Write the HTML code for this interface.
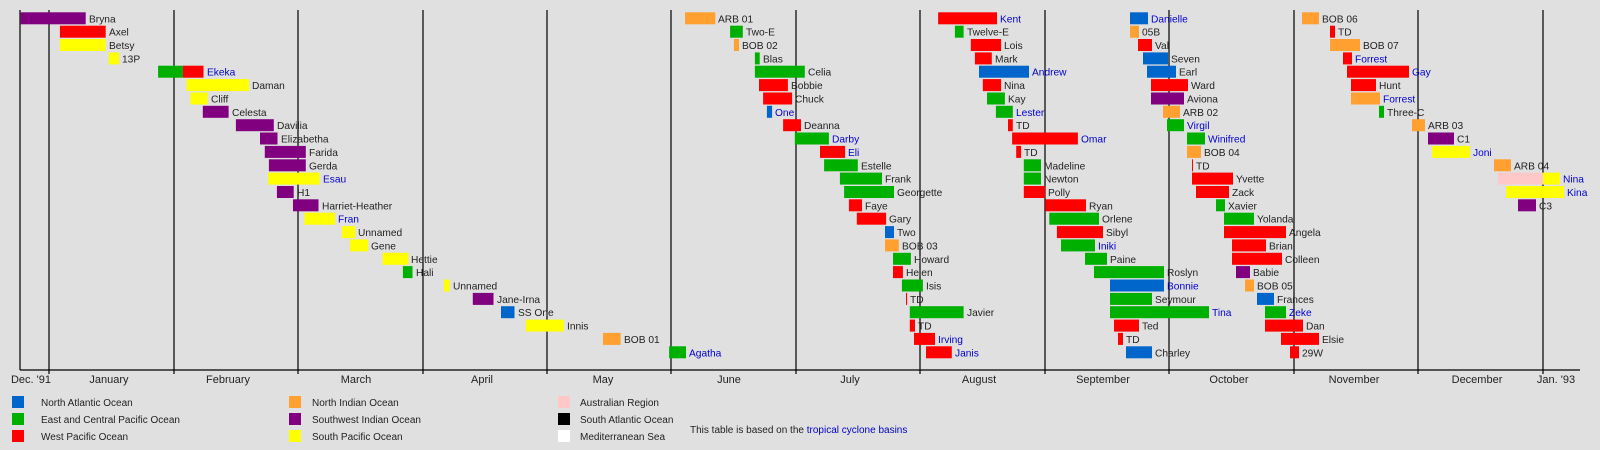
<!DOCTYPE html>
<html><head><meta charset="utf-8"><style>
body{margin:0;background:#e0e0e0}
svg{display:block}
text{font-family:"Liberation Sans",sans-serif;font-size:10.2px;fill:#222}
.m text{font-size:11px}
.b{fill:#0000cc}
.P{fill:#800080}.R{fill:#ff0000}.Y{fill:#ffff00}.G{fill:#00b000}.B{fill:#0066cc}.O{fill:#ffa030}.K{fill:#ffc8c8}
text.l{font-size:10px}
</style></head><body>
<svg width="1600" height="450" xmlns="http://www.w3.org/2000/svg">
<rect width="1600" height="450" fill="#e0e0e0"/>
<g stroke="#000" stroke-width="1.2">
<line x1="20" y1="10" x2="20" y2="370"/>
<line x1="20" y1="370" x2="1580" y2="370"/>
<line x1="49" y1="10" x2="49" y2="374"/>
<line x1="174" y1="10" x2="174" y2="374"/>
<line x1="298" y1="10" x2="298" y2="374"/>
<line x1="423" y1="10" x2="423" y2="374"/>
<line x1="547" y1="10" x2="547" y2="374"/>
<line x1="671" y1="10" x2="671" y2="374"/>
<line x1="796" y1="10" x2="796" y2="374"/>
<line x1="920" y1="10" x2="920" y2="374"/>
<line x1="1045" y1="10" x2="1045" y2="374"/>
<line x1="1169" y1="10" x2="1169" y2="374"/>
<line x1="1294" y1="10" x2="1294" y2="374"/>
<line x1="1418" y1="10" x2="1418" y2="374"/>
<line x1="1543" y1="10" x2="1543" y2="374"/>
</g>
<g class="m" text-anchor="middle">
<text x="31" y="383">Dec. '91</text><text x="109" y="383">January</text><text x="228" y="383">February</text><text x="356" y="383">March</text><text x="482" y="383">April</text><text x="603" y="383">May</text><text x="729" y="383">June</text><text x="850" y="383">July</text><text x="979" y="383">August</text><text x="1103" y="383">September</text><text x="1229" y="383">October</text><text x="1354" y="383">November</text><text x="1477" y="383">December</text><text x="1556" y="383">Jan. '93</text>
</g>
<rect class="P" x="20.7" y="12.3" width="65" height="12"/><text x="89" y="22.3">Bryna</text>
<rect class="R" x="59.9" y="25.7" width="45.8" height="12"/><text x="109" y="35.7">Axel</text>
<rect class="Y" x="59.9" y="39" width="45.8" height="12"/><text x="109" y="49">Betsy</text>
<rect class="Y" x="108.8" y="52.4" width="10.3" height="12"/><text x="122" y="62.4">13P</text>
<rect class="G" x="158.1" y="65.7" width="24.8" height="12"/><rect class="R" x="182.9" y="65.7" width="20.6" height="12"/><text class="b" x="207" y="75.7">Ekeka</text>
<rect class="Y" x="186.6" y="79.1" width="62.4" height="12"/><text x="252" y="89.1">Daman</text>
<rect class="Y" x="190.4" y="92.5" width="17.2" height="12"/><text x="211" y="102.5">Cliff</text>
<rect class="P" x="202.8" y="105.8" width="25.8" height="12"/><text x="232" y="115.8">Celesta</text>
<rect class="P" x="235.9" y="119.2" width="37.9" height="12"/><text x="277" y="129.2">Davilia</text>
<rect class="P" x="260" y="132.5" width="17.5" height="12"/><text x="281" y="142.5">Elizabetha</text>
<rect class="P" x="264.8" y="145.9" width="41" height="12"/><text x="309" y="155.9">Farida</text>
<rect class="P" x="268.9" y="159.3" width="36.9" height="12"/><text x="309" y="169.3">Gerda</text>
<rect class="Y" x="268.2" y="172.6" width="51.4" height="12"/><text class="b" x="323" y="182.6">Esau</text>
<rect class="P" x="276.9" y="186" width="16.8" height="12"/><text x="297" y="196">H1</text>
<rect class="P" x="293" y="199.3" width="25.5" height="12"/><text x="322" y="209.3">Harriet-Heather</text>
<rect class="Y" x="304.4" y="212.7" width="30.7" height="12"/><text class="b" x="338" y="222.7">Fran</text>
<rect class="Y" x="341.9" y="226.1" width="13.5" height="12"/><text x="358" y="236.1">Unnamed</text>
<rect class="Y" x="349.9" y="239.4" width="18.2" height="12"/><text x="371" y="249.4">Gene</text>
<rect class="Y" x="382.6" y="252.8" width="25.8" height="12"/><text x="411" y="262.8">Hettie</text>
<rect class="G" x="402.9" y="266.1" width="9.6" height="12"/><text x="416" y="276.1">Hali</text>
<rect class="Y" x="443.9" y="279.5" width="5.8" height="12"/><text x="453" y="289.5">Unnamed</text>
<rect class="P" x="472.8" y="292.9" width="20.7" height="12"/><text x="497" y="302.9">Jane-Irna</text>
<rect class="B" x="501" y="306.2" width="13.5" height="12"/><text x="518" y="316.2">SS One</text>
<rect class="Y" x="525.8" y="319.6" width="38" height="12"/><text x="567" y="329.6">Innis</text>
<rect class="O" x="603" y="332.9" width="17.6" height="12"/><text x="624" y="342.9">BOB 01</text>
<rect class="G" x="669.1" y="346.3" width="16.9" height="12"/><text class="b" x="689" y="356.3">Agatha</text>
<rect class="O" x="685" y="12.3" width="30.3" height="12"/><text x="718" y="22.3">ARB 01</text>
<rect class="R" x="938.1" y="12.3" width="58.9" height="12"/><text class="b" x="1000" y="22.3">Kent</text>
<rect class="G" x="730.1" y="25.7" width="12.7" height="12"/><text x="746" y="35.7">Two-E</text>
<rect class="G" x="954.9" y="25.7" width="8.7" height="12"/><text x="967" y="35.7">Twelve-E</text>
<rect class="O" x="733.9" y="39" width="5.1" height="12"/><text x="742" y="49">BOB 02</text>
<rect class="R" x="970.8" y="39" width="30.3" height="12"/><text x="1004" y="49">Lois</text>
<rect class="G" x="754.9" y="52.4" width="4.8" height="12"/><text x="763" y="62.4">Blas</text>
<rect class="R" x="974.9" y="52.4" width="16.9" height="12"/><text x="995" y="62.4">Mark</text>
<rect class="G" x="754.9" y="65.7" width="49.9" height="12"/><text x="808" y="75.7">Celia</text>
<rect class="B" x="979" y="65.7" width="50" height="12"/><text class="b" x="1032" y="75.7">Andrew</text>
<rect class="R" x="759" y="79.1" width="28.9" height="12"/><text x="791" y="89.1">Bobbie</text>
<rect class="R" x="982.8" y="79.1" width="18.3" height="12"/><text x="1004" y="89.1">Nina</text>
<rect class="R" x="763.1" y="92.5" width="29" height="12"/><text x="795" y="102.5">Chuck</text>
<rect class="G" x="987" y="92.5" width="17.9" height="12"/><text x="1008" y="102.5">Kay</text>
<rect class="B" x="766.9" y="105.8" width="5.2" height="12"/><text class="b" x="775" y="115.8">One</text>
<rect class="G" x="995.9" y="105.8" width="16.9" height="12"/><text class="b" x="1016" y="115.8">Lester</text>
<rect class="R" x="783.1" y="119.2" width="17.9" height="12"/><text x="804" y="129.2">Deanna</text>
<rect class="R" x="1008" y="119.2" width="4.8" height="12"/><text x="1016" y="129.2">TD</text>
<rect class="G" x="794.8" y="132.5" width="34.1" height="12"/><text class="b" x="832" y="142.5">Darby</text>
<rect class="R" x="1012.1" y="132.5" width="65.8" height="12"/><text class="b" x="1081" y="142.5">Omar</text>
<rect class="R" x="820" y="145.9" width="25.1" height="12"/><text class="b" x="848" y="155.9">Eli</text>
<rect class="R" x="1016.2" y="145.9" width="4.9" height="12"/><text x="1024" y="155.9">TD</text>
<rect class="G" x="824.1" y="159.3" width="33.7" height="12"/><text x="861" y="169.3">Estelle</text>
<rect class="G" x="1023.8" y="159.3" width="17.2" height="12"/><text x="1044" y="169.3">Madeline</text>
<rect class="G" x="839.9" y="172.6" width="42.1" height="12"/><text x="885" y="182.6">Frank</text>
<rect class="G" x="1023.8" y="172.6" width="17.2" height="12"/><text x="1044" y="182.6">Newton</text>
<rect class="G" x="844.1" y="186" width="49.9" height="12"/><text x="897" y="196">Georgette</text>
<rect class="R" x="1023.8" y="186" width="21.4" height="12"/><text x="1048" y="196">Polly</text>
<rect class="R" x="848.9" y="199.3" width="13.1" height="12"/><text x="865" y="209.3">Faye</text>
<rect class="R" x="1045.2" y="199.3" width="40.8" height="12"/><text x="1089" y="209.3">Ryan</text>
<rect class="R" x="856.8" y="212.7" width="29.3" height="12"/><text x="889" y="222.7">Gary</text>
<rect class="G" x="1049.3" y="212.7" width="49.7" height="12"/><text x="1102" y="222.7">Orlene</text>
<rect class="B" x="885" y="226.1" width="9" height="12"/><text x="897" y="236.1">Two</text>
<rect class="R" x="1056.9" y="226.1" width="46.1" height="12"/><text x="1106" y="236.1">Sibyl</text>
<rect class="O" x="885" y="239.4" width="13.8" height="12"/><text x="902" y="249.4">BOB 03</text>
<rect class="G" x="1061" y="239.4" width="34" height="12"/><text class="b" x="1098" y="249.4">Iniki</text>
<rect class="G" x="893" y="252.8" width="17.9" height="12"/><text x="914" y="262.8">Howard</text>
<rect class="G" x="1085" y="252.8" width="22" height="12"/><text x="1110" y="262.8">Paine</text>
<rect class="R" x="893" y="266.1" width="9.9" height="12"/><text x="906" y="276.1">Helen</text>
<rect class="G" x="1094" y="266.1" width="70" height="12"/><text x="1167" y="276.1">Roslyn</text>
<rect class="G" x="901.9" y="279.5" width="21" height="12"/><text x="926" y="289.5">Isis</text>
<rect class="B" x="1110" y="279.5" width="54" height="12"/><text class="b" x="1167" y="289.5">Bonnie</text>
<rect class="R" x="906" y="292.9" width="1.1" height="12"/><text x="910" y="302.9">TD</text>
<rect class="G" x="1110" y="292.9" width="42" height="12"/><text x="1155" y="302.9">Seymour</text>
<rect class="G" x="909.8" y="306.2" width="53.8" height="12"/><text x="967" y="316.2">Javier</text>
<rect class="G" x="1110" y="306.2" width="99" height="12"/><text class="b" x="1212" y="316.2">Tina</text>
<rect class="R" x="909.8" y="319.6" width="5.2" height="12"/><text x="918" y="329.6">TD</text>
<rect class="R" x="1114" y="319.6" width="25" height="12"/><text x="1142" y="329.6">Ted</text>
<rect class="R" x="914" y="332.9" width="21" height="12"/><text class="b" x="938" y="342.9">Irving</text>
<rect class="R" x="1118" y="332.9" width="5" height="12"/><text x="1126" y="342.9">TD</text>
<rect class="R" x="926" y="346.3" width="25.8" height="12"/><text class="b" x="955" y="356.3">Janis</text>
<rect class="B" x="1126" y="346.3" width="26" height="12"/><text x="1155" y="356.3">Charley</text>
<rect class="B" x="1130" y="12.3" width="18" height="12"/><text class="b" x="1151" y="22.3">Danielle</text>
<rect class="O" x="1302" y="12.3" width="17" height="12"/><text x="1322" y="22.3">BOB 06</text>
<rect class="O" x="1130" y="25.7" width="9" height="12"/><text x="1142" y="35.7">05B</text>
<rect class="R" x="1330" y="25.7" width="5" height="12"/><text x="1338" y="35.7">TD</text>
<rect class="R" x="1138" y="39" width="14" height="12"/><text x="1155" y="49">Val</text>
<rect class="O" x="1330" y="39" width="30" height="12"/><text x="1363" y="49">BOB 07</text>
<rect class="B" x="1143" y="52.4" width="25" height="12"/><text x="1171" y="62.4">Seven</text>
<rect class="R" x="1343" y="52.4" width="9" height="12"/><text class="b" x="1355" y="62.4">Forrest</text>
<rect class="B" x="1147" y="65.7" width="29" height="12"/><text x="1179" y="75.7">Earl</text>
<rect class="R" x="1347" y="65.7" width="62" height="12"/><text class="b" x="1412" y="75.7">Gay</text>
<rect class="R" x="1151" y="79.1" width="37" height="12"/><text x="1191" y="89.1">Ward</text>
<rect class="R" x="1351" y="79.1" width="25" height="12"/><text x="1379" y="89.1">Hunt</text>
<rect class="P" x="1151" y="92.5" width="33" height="12"/><text x="1187" y="102.5">Aviona</text>
<rect class="O" x="1351" y="92.5" width="29" height="12"/><text class="b" x="1383" y="102.5">Forrest</text>
<rect class="O" x="1163" y="105.8" width="17" height="12"/><text x="1183" y="115.8">ARB 02</text>
<rect class="G" x="1379" y="105.8" width="5" height="12"/><text x="1387" y="115.8">Three-C</text>
<rect class="G" x="1167" y="119.2" width="17" height="12"/><text class="b" x="1187" y="129.2">Virgil</text>
<rect class="O" x="1412" y="119.2" width="13" height="12"/><text x="1428" y="129.2">ARB 03</text>
<rect class="G" x="1187" y="132.5" width="18" height="12"/><text class="b" x="1208" y="142.5">Winifred</text>
<rect class="P" x="1428" y="132.5" width="26" height="12"/><text x="1457" y="142.5">C1</text>
<rect class="O" x="1187" y="145.9" width="14" height="12"/><text x="1204" y="155.9">BOB 04</text>
<rect class="Y" x="1432" y="145.9" width="38" height="12"/><text class="b" x="1473" y="155.9">Joni</text>
<rect class="R" x="1192" y="159.3" width="1" height="12"/><text x="1196" y="169.3">TD</text>
<rect class="O" x="1494" y="159.3" width="17" height="12"/><text x="1514" y="169.3">ARB 04</text>
<rect class="R" x="1192" y="172.6" width="41" height="12"/><text x="1236" y="182.6">Yvette</text>
<rect class="K" x="1498" y="172.6" width="45" height="12"/><rect class="Y" x="1543" y="172.6" width="17" height="12"/><text class="b" x="1563" y="182.6">Nina</text>
<rect class="R" x="1196" y="186" width="33" height="12"/><text x="1232" y="196">Zack</text>
<rect class="Y" x="1506" y="186" width="58" height="12"/><text class="b" x="1567" y="196">Kina</text>
<rect class="G" x="1216" y="199.3" width="9" height="12"/><text x="1228" y="209.3">Xavier</text>
<rect class="P" x="1518" y="199.3" width="18" height="12"/><text x="1539" y="209.3">C3</text>
<rect class="G" x="1224" y="212.7" width="30" height="12"/><text x="1257" y="222.7">Yolanda</text>
<rect class="R" x="1224" y="226.1" width="62" height="12"/><text x="1289" y="236.1">Angela</text>
<rect class="R" x="1232" y="239.4" width="34" height="12"/><text x="1269" y="249.4">Brian</text>
<rect class="R" x="1232" y="252.8" width="50" height="12"/><text x="1285" y="262.8">Colleen</text>
<rect class="P" x="1236" y="266.1" width="14" height="12"/><text x="1253" y="276.1">Babie</text>
<rect class="O" x="1245" y="279.5" width="9" height="12"/><text x="1257" y="289.5">BOB 05</text>
<rect class="B" x="1257" y="292.9" width="17" height="12"/><text x="1277" y="302.9">Frances</text>
<rect class="G" x="1265" y="306.2" width="21" height="12"/><text class="b" x="1289" y="316.2">Zeke</text>
<rect class="R" x="1265" y="319.6" width="38" height="12"/><text x="1306" y="329.6">Dan</text>
<rect class="R" x="1281" y="332.9" width="38" height="12"/><text x="1322" y="342.9">Elsie</text>
<rect class="R" x="1290" y="346.3" width="9" height="12"/><text x="1302" y="356.3">29W</text>
<rect class="B" x="12" y="396" width="12" height="12"/><text class="l" x="41" y="406">North Atlantic Ocean</text>
<rect class="G" x="12" y="413" width="12" height="12"/><text class="l" x="41" y="423">East and Central Pacific Ocean</text>
<rect class="R" x="12" y="430" width="12" height="12"/><text class="l" x="41" y="440">West Pacific Ocean</text>
<rect class="O" x="289" y="396" width="12" height="12"/><text class="l" x="312" y="406">North Indian Ocean</text>
<rect class="P" x="289" y="413" width="12" height="12"/><text class="l" x="312" y="423">Southwest Indian Ocean</text>
<rect class="Y" x="289" y="430" width="12" height="12"/><text class="l" x="312" y="440">South Pacific Ocean</text>
<rect class="K" x="558" y="396" width="12" height="12"/><text class="l" x="580" y="406">Australian Region</text>
<rect fill="#000" x="558" y="413" width="12" height="12"/><text class="l" x="580" y="423">South Atlantic Ocean</text>
<rect fill="#fff" x="558" y="430" width="12" height="12"/><text class="l" x="580" y="440">Mediterranean Sea</text>
<text class="l" x="690" y="433">This table is based on the <tspan class="b">tropical cyclone basins</tspan></text>
</svg>
</body></html>
